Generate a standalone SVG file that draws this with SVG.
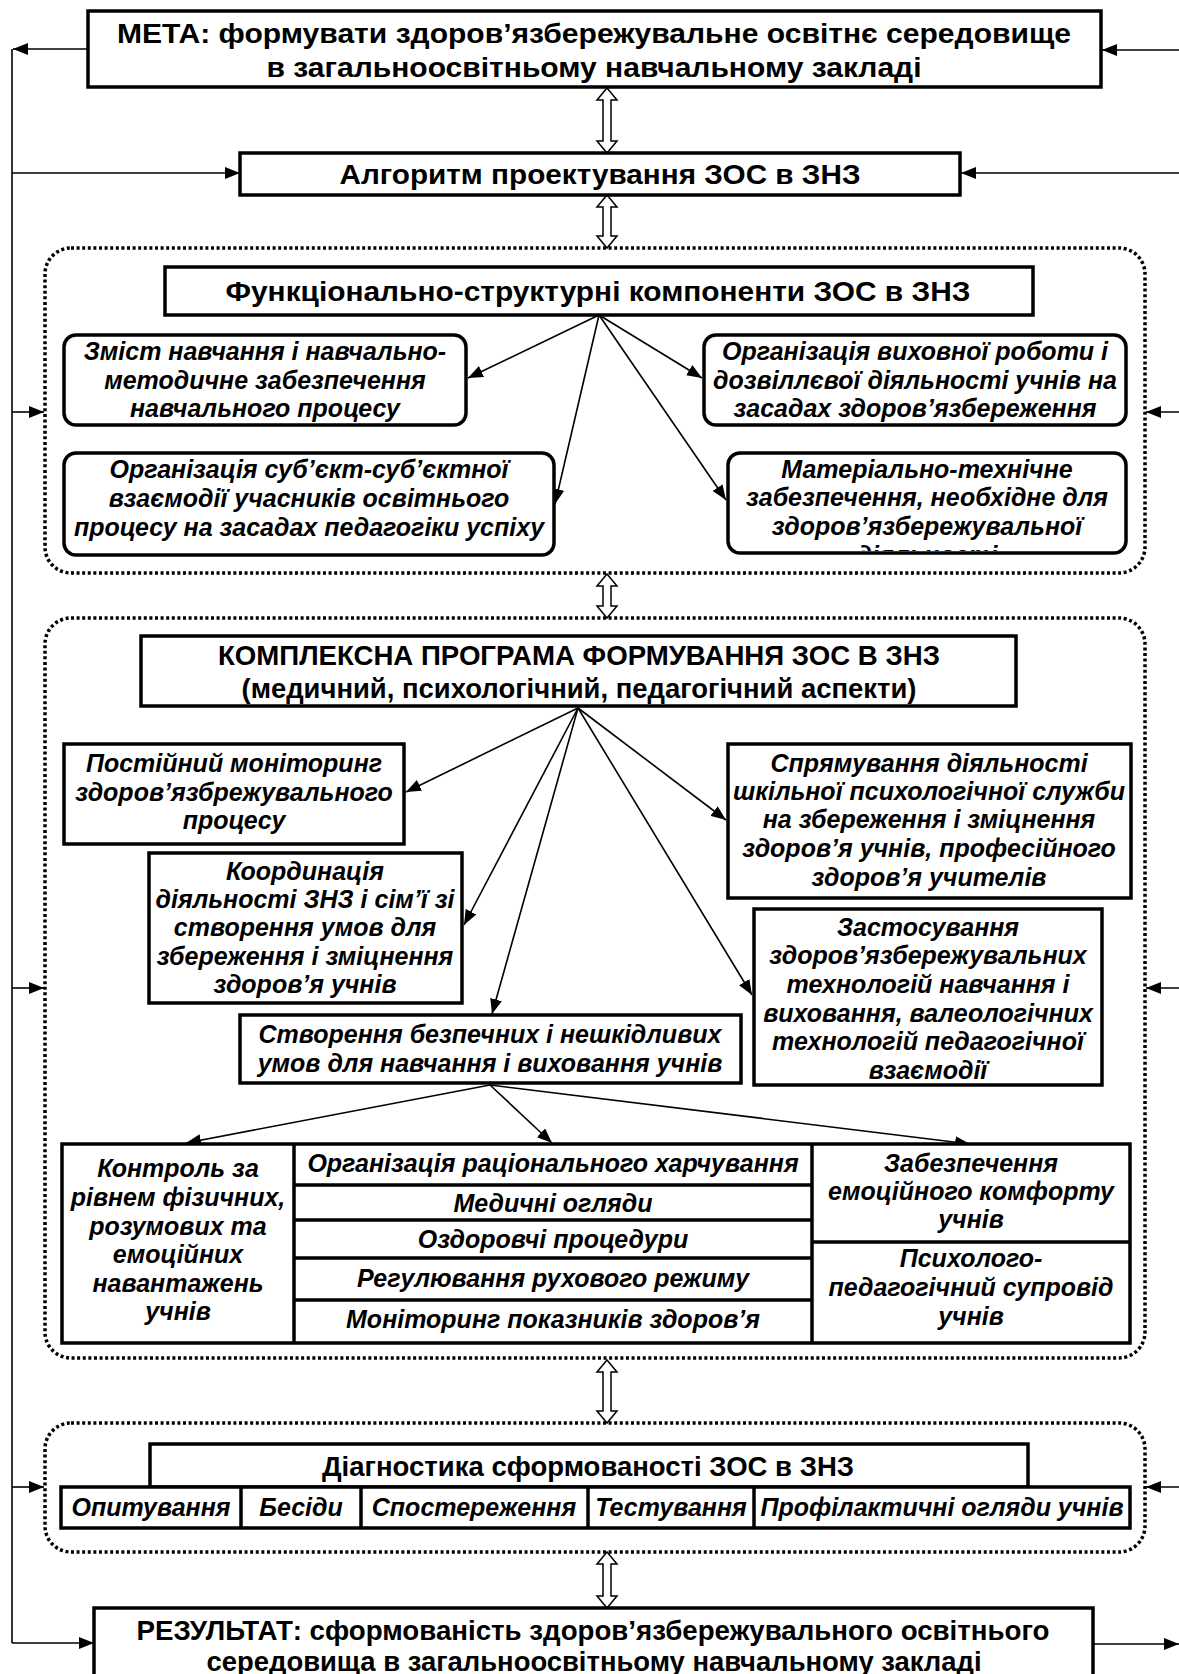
<svg xmlns="http://www.w3.org/2000/svg" width="1179" height="1674" viewBox="0 0 1179 1674">
<defs>
<style>
.box{fill:#fff;stroke:#000;stroke-width:3.5}
.rbox{fill:#fff;stroke:#000;stroke-width:3.5}
.cont{fill:none;stroke:#000;stroke-width:3.5;stroke-dasharray:3 2.6}
.ln{fill:none;stroke:#000;stroke-width:1.6}
.dbl{fill:#fff;stroke:#000;stroke-width:1.5}
.t{font-family:"Liberation Sans",Arial,sans-serif;font-weight:bold;font-size:28px;text-anchor:middle;fill:#000}
.i{font-family:"Liberation Sans",Arial,sans-serif;font-weight:bold;font-style:italic;font-size:25px;text-anchor:middle;fill:#000}
</style>
<marker id="ah" markerUnits="userSpaceOnUse" markerWidth="16" markerHeight="12" refX="15" refY="6" orient="auto">
<path d="M0,0 L15,6 L0,12 z" fill="#000"/>
</marker>
<clipPath id="clipD"><rect x="730" y="455" width="394" height="96" rx="10"/></clipPath>
</defs>

<g id="connectors">
<line class="ln" x1="12" y1="49" x2="12" y2="1643"/>
<line class="ln" x1="88" y1="49" x2="13" y2="49" marker-end="url(#ah)"/>
<line class="ln" x1="12" y1="173" x2="240" y2="173" marker-end="url(#ah)"/>
<line class="ln" x1="12" y1="412" x2="44" y2="412" marker-end="url(#ah)"/>
<line class="ln" x1="12" y1="988" x2="44" y2="988" marker-end="url(#ah)"/>
<line class="ln" x1="12" y1="1487" x2="44" y2="1487" marker-end="url(#ah)"/>
<line class="ln" x1="12" y1="1643" x2="94" y2="1643" marker-end="url(#ah)"/>
<line class="ln" x1="1179" y1="50" x2="1102" y2="50" marker-end="url(#ah)"/>
<line class="ln" x1="1179" y1="173" x2="961" y2="173" marker-end="url(#ah)"/>
<line class="ln" x1="1179" y1="412" x2="1146" y2="412" marker-end="url(#ah)"/>
<line class="ln" x1="1179" y1="988" x2="1146" y2="988" marker-end="url(#ah)"/>
<line class="ln" x1="1179" y1="1487" x2="1146" y2="1487" marker-end="url(#ah)"/>
<line class="ln" x1="1093" y1="1644" x2="1179" y2="1644" marker-end="url(#ah)"/>
<polygon class="dbl" points="607,88 617,100 611,100 611,141 617,141 607,153 597,141 603,141 603,100 597,100"/>
<polygon class="dbl" points="607,195 617,207 611,207 611,236 617,236 607,248 597,236 603,236 603,207 597,207"/>
<polygon class="dbl" points="607,574 617,586 611,586 611,606 617,606 607,618 597,606 603,606 603,586 597,586"/>
<polygon class="dbl" points="607,1360 617,1372 611,1372 611,1411 617,1411 607,1423 597,1411 603,1411 603,1372 597,1372"/>
<polygon class="dbl" points="607,1552 617,1564 611,1564 611,1596 617,1596 607,1608 597,1596 603,1596 603,1564 597,1564"/>
<line class="ln" x1="599" y1="315" x2="468" y2="378" marker-end="url(#ah)"/>
<line class="ln" x1="599" y1="315" x2="702" y2="378" marker-end="url(#ah)"/>
<line class="ln" x1="599" y1="315" x2="555" y2="504" marker-end="url(#ah)"/>
<line class="ln" x1="599" y1="315" x2="726" y2="500" marker-end="url(#ah)"/>
<line class="ln" x1="578" y1="708" x2="406" y2="792" marker-end="url(#ah)"/>
<line class="ln" x1="578" y1="708" x2="464" y2="925" marker-end="url(#ah)"/>
<line class="ln" x1="578" y1="708" x2="492" y2="1014" marker-end="url(#ah)"/>
<line class="ln" x1="578" y1="708" x2="726" y2="820" marker-end="url(#ah)"/>
<line class="ln" x1="578" y1="708" x2="752" y2="995" marker-end="url(#ah)"/>
<line class="ln" x1="490" y1="1085" x2="186" y2="1143" marker-end="url(#ah)"/>
<line class="ln" x1="490" y1="1085" x2="552" y2="1143" marker-end="url(#ah)"/>
<line class="ln" x1="490" y1="1085" x2="970" y2="1144" marker-end="url(#ah)"/>
</g>

<g id="goal">
<rect class="box" x="88" y="11" width="1013" height="76"/>
<text class="t" x="594" y="43" textLength="954" lengthAdjust="spacingAndGlyphs">МЕТА: формувати здоров’язбережувальне освітнє середовище</text>
<text class="t" x="594" y="77" textLength="655" lengthAdjust="spacingAndGlyphs">в загальноосвітньому навчальному закладі</text>
</g>

<g id="algorithm">
<rect class="box" x="240" y="153" width="720" height="42"/>
<text class="t" x="600" y="184" textLength="521" lengthAdjust="spacingAndGlyphs">Алгоритм проектування ЗОС в ЗНЗ</text>
</g>

<g id="container-functional">
<rect class="cont" x="45" y="248" width="1100" height="325" rx="26"/>
</g>

<g id="functional">
<rect class="box" x="165" y="267" width="868" height="48"/>
<text class="t" x="598" y="301" textLength="745" lengthAdjust="spacingAndGlyphs">Функціонально-структурні компоненти ЗОС в ЗНЗ</text>
</g>

<g id="content">
<rect class="rbox" x="64" y="335" width="402" height="90" rx="12"/>
<text class="i" x="265" y="360">Зміст навчання і навчально-</text>
<text class="i" x="265" y="389">методичне забезпечення</text>
<text class="i" x="265" y="417">навчального процесу</text>
</g>

<g id="upbringing">
<rect class="rbox" x="704" y="335" width="422" height="90" rx="12"/>
<text class="i" x="915" y="360">Організація виховної роботи і</text>
<text class="i" x="915" y="389">дозвіллєвої діяльності учнів на</text>
<text class="i" x="915" y="417">засадах здоров’язбереження</text>
</g>

<g id="interaction">
<rect class="rbox" x="64" y="453" width="490" height="102" rx="12"/>
<text class="i" x="309" y="478">Організація суб’єкт-суб’єктної</text>
<text class="i" x="309" y="507">взаємодії учасників освітнього</text>
<text class="i" x="309" y="536">процесу на засадах педагогіки успіху</text>
</g>

<g id="material">
<rect class="rbox" x="728" y="453" width="398" height="100" rx="12"/>
<g clip-path="url(#clipD)">
<text class="i" x="927" y="478">Матеріально-технічне</text>
<text class="i" x="927" y="506">забезпечення, необхідне для</text>
<text class="i" x="927" y="535">здоров’язбережувальної</text>
<text class="i" x="927" y="564">діяльності</text>
</g>
</g>

<g id="container-programme">
<rect class="cont" x="45" y="618" width="1100" height="740" rx="26"/>
</g>

<g id="programme">
<rect class="box" x="141" y="636" width="875" height="70"/>
<text class="t" x="579" y="665" textLength="722" lengthAdjust="spacingAndGlyphs">КОМПЛЕКСНА ПРОГРАМА ФОРМУВАННЯ ЗОС В ЗНЗ</text>
<text class="t" x="579" y="698" textLength="675" lengthAdjust="spacingAndGlyphs">(медичний, психологічний, педагогічний аспекти)</text>
</g>

<g id="monitoring">
<rect class="box" x="64" y="744" width="340" height="100"/>
<text class="i" x="234" y="772">Постійний моніторинг</text>
<text class="i" x="234" y="801">здоров’язбрежувального</text>
<text class="i" x="234" y="829">процесу</text>
</g>

<g id="psych-service">
<rect class="box" x="728" y="744" width="403" height="154"/>
<text class="i" x="929" y="772">Спрямування діяльності</text>
<text class="i" x="929" y="800">шкільної психологічної служби</text>
<text class="i" x="929" y="828">на збереження і зміцнення</text>
<text class="i" x="929" y="857">здоров’я учнів, професійного</text>
<text class="i" x="929" y="886">здоров’я учителів</text>
</g>

<g id="coordination">
<rect class="box" x="149" y="853" width="313" height="150"/>
<text class="i" x="305" y="880">Координація</text>
<text class="i" x="305" y="908">діяльності ЗНЗ і сім’ї зі</text>
<text class="i" x="305" y="936">створення умов для</text>
<text class="i" x="305" y="965">збереження і зміцнення</text>
<text class="i" x="305" y="993">здоров’я учнів</text>
</g>

<g id="technologies">
<rect class="box" x="754" y="909" width="348" height="176"/>
<text class="i" x="928" y="936">Застосування</text>
<text class="i" x="928" y="964">здоров’язбережувальних</text>
<text class="i" x="928" y="993">технологій навчання і</text>
<text class="i" x="928" y="1022">виховання, валеологічних</text>
<text class="i" x="928" y="1050">технологій педагогічної</text>
<text class="i" x="928" y="1079">взаємодії</text>
</g>

<g id="safe-conditions">
<rect class="box" x="240" y="1015" width="501" height="68"/>
<text class="i" x="490" y="1043">Створення безпечних і нешкідливих</text>
<text class="i" x="490" y="1072">умов для навчання і виховання учнів</text>
</g>

<g id="table">
<rect class="box" x="62" y="1144" width="1068" height="199"/>
<line class="box" x1="294" y1="1144" x2="294" y2="1343"/>
<line class="box" x1="812" y1="1144" x2="812" y2="1343"/>
<line class="box" x1="294" y1="1185" x2="812" y2="1185"/>
<line class="box" x1="294" y1="1220" x2="812" y2="1220"/>
<line class="box" x1="294" y1="1258" x2="812" y2="1258"/>
<line class="box" x1="294" y1="1300" x2="812" y2="1300"/>
<line class="box" x1="812" y1="1242" x2="1130" y2="1242"/>
<text class="i" x="178" y="1177">Контроль за</text>
<text class="i" x="178" y="1206">рівнем фізичних,</text>
<text class="i" x="178" y="1235">розумових та</text>
<text class="i" x="178" y="1263">емоційних</text>
<text class="i" x="178" y="1292">навантажень</text>
<text class="i" x="178" y="1320">учнів</text>
<text class="i" x="553" y="1172">Організація раціонального харчування</text>
<text class="i" x="553" y="1212">Медичні огляди</text>
<text class="i" x="553" y="1248">Оздоровчі процедури</text>
<text class="i" x="553" y="1287">Регулювання рухового режиму</text>
<text class="i" x="553" y="1328">Моніторинг показників здоров’я</text>
<text class="i" x="971" y="1172">Забезпечення</text>
<text class="i" x="971" y="1200">емоційного комфорту</text>
<text class="i" x="971" y="1228">учнів</text>
<text class="i" x="971" y="1267">Психолого-</text>
<text class="i" x="971" y="1296">педагогічний супровід</text>
<text class="i" x="971" y="1325">учнів</text>
</g>

<g id="container-diagnostics">
<rect class="cont" x="45" y="1423" width="1100" height="129" rx="26"/>
</g>

<g id="diagnostics">
<rect class="box" x="150" y="1444" width="878" height="43"/>
<text class="t" x="588" y="1476" textLength="532" lengthAdjust="spacingAndGlyphs">Діагностика сформованості ЗОС в ЗНЗ</text>
<rect class="box" x="61" y="1487" width="1069" height="41"/>
<line class="box" x1="241" y1="1487" x2="241" y2="1528"/>
<line class="box" x1="361" y1="1487" x2="361" y2="1528"/>
<line class="box" x1="588" y1="1487" x2="588" y2="1528"/>
<line class="box" x1="754" y1="1487" x2="754" y2="1528"/>
<text class="i" x="151" y="1516">Опитування</text>
<text class="i" x="301" y="1516">Бесіди</text>
<text class="i" x="474" y="1516">Спостереження</text>
<text class="i" x="671" y="1516">Тестування</text>
<text class="i" x="942" y="1516">Профілактичні огляди учнів</text>
</g>

<g id="result">
<rect class="box" x="94" y="1608" width="999" height="90"/>
<text class="t" x="593" y="1640" textLength="913" lengthAdjust="spacingAndGlyphs">РЕЗУЛЬТАТ: сформованість здоров’язбережувального освітнього</text>
<text class="t" x="594" y="1671" textLength="775" lengthAdjust="spacingAndGlyphs">середовища в загальноосвітньому навчальному закладі</text>
</g>
</svg>
